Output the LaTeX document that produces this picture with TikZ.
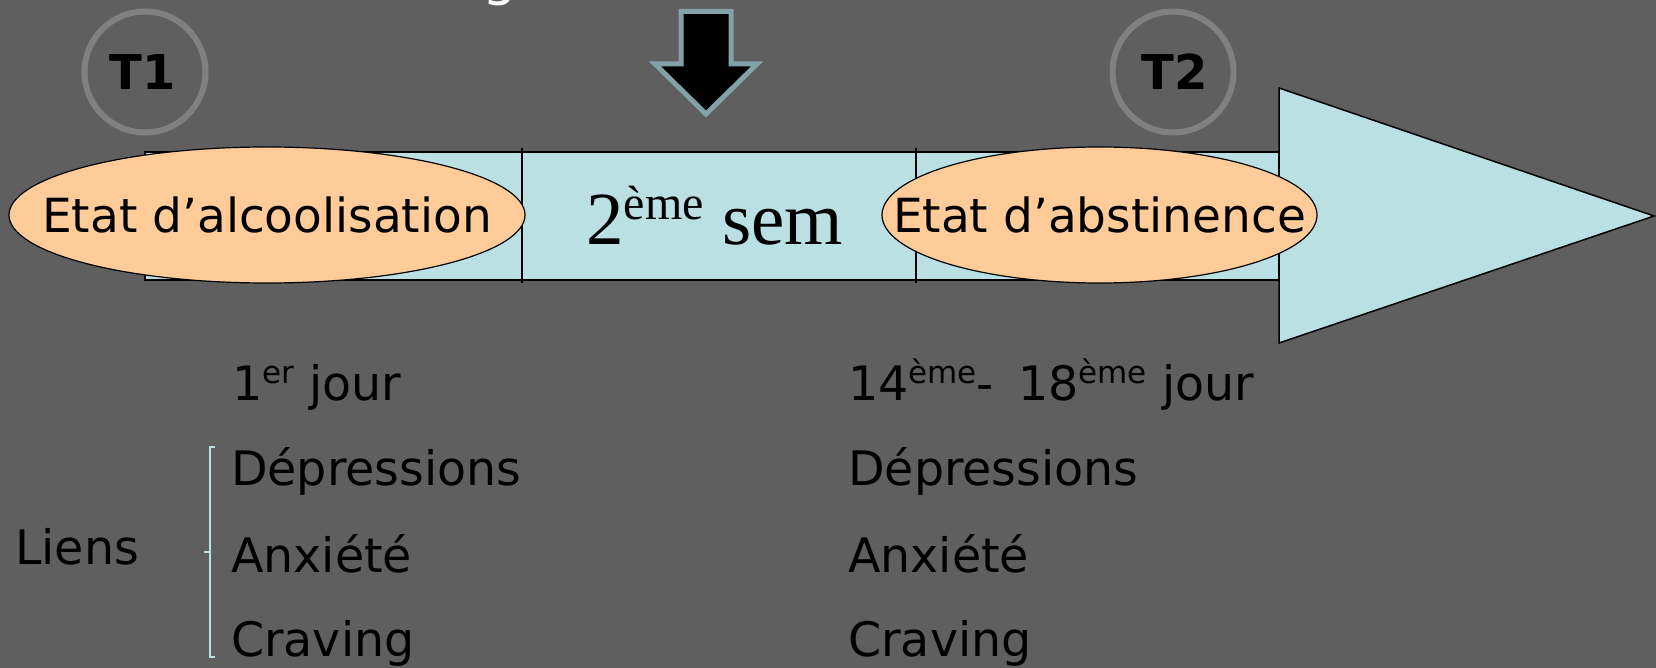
\documentclass[tikz,border=0pt]{standalone}
\usepackage{fontspec}
\setmainfont{DejaVu Sans}
\newfontfamily\tnr{Liberation Serif}
\usetikzlibrary{shapes.geometric}
\definecolor{bgc}{RGB}{95,95,95}
\definecolor{barc}{RGB}{187,224,227}
\definecolor{ellc}{RGB}{255,204,153}
\definecolor{circc}{RGB}{128,128,128}
\definecolor{arrc}{RGB}{130,162,167}
\tikzset{
  ell/.style={ellipse, draw=black, line width=1.2pt, fill=ellc, inner sep=0pt},
  elltxt/.style={inner sep=0pt, font=\fontsize{47}{50}\selectfont},
  tcirc/.style={circle, draw=circc, line width=6pt, minimum size=121pt, inner sep=0pt},
  ttxt/.style={inner sep=0pt, font=\fontsize{48}{50}\selectfont\bfseries},
  txt/.style={anchor=base west, inner sep=0pt, font=\fontsize{47.5}{50}\selectfont, text=black},
  divl/.style={draw=black, line width=1.2pt},
  brk/.style={draw=barc, line width=2pt}
}
\newcommand{\supx}[1]{\raisebox{17pt}{\fontsize{31}{31}\selectfont #1}}
\begin{document}
\begin{tikzpicture}[x=1pt,y=-1pt]
\useasboundingbox (0,0) rectangle (1656,668);
\fill[bgc] (0,0) rectangle (1656,668);
% title descender
\node[anchor=base west, inner sep=0pt, text=white, font=\fontsize{55}{60}\selectfont] (title) at (482,-5) {g};
% bar
\draw[fill=barc, line width=1.5pt] (145,152) rectangle (1279,280);
\coordinate (d1t) at (522,148); \coordinate (d1b) at (522,283);
\coordinate (d2t) at (916,148); \coordinate (d2b) at (916,283);
\draw[divl] (d1t) -- (d1b);
\draw[divl] (d2t) -- (d2b);
% arrow head
\draw[fill=barc, line width=1.5pt, line join=miter] (1279,88) -- (1654,216) -- (1279,343) -- cycle;
% ellipses
\node[ell, minimum width=516pt, minimum height=136pt] (e1) at (267,215) {};
\node[elltxt] (e1t) at (e1.center) {Etat d’alcoolisation};
\node[ell, minimum width=435pt, minimum height=136pt] (e2) at (1099.5,215) {};
\node[elltxt] (e2t) at (e2.center) {Etat d’abstinence};
% 2eme sem
\node[anchor=base west, inner sep=0pt, font=\tnr\fontsize{75}{80}\selectfont] (sem) at (586,245) {2\raisebox{25pt}{\fontsize{48}{48}\selectfont ème} sem};
% circles
\node[tcirc] (t1) at (145,72) {};
\node[ttxt] (t1l) at (143,72) {T1};
\node[tcirc] (t2) at (1173,72) {};
\node[ttxt] (t2l) at (1175,72) {T2};
% down arrow
\draw[fill=black, draw=arrc, line width=5pt, line join=miter] (681,11.5) -- (731,11.5) -- (731,64) -- (757,64) -- (706,114) -- (655,64) -- (681,64) -- cycle;
% left column
\node[txt] (j1) at (232,400) {1\supx{er} jour};
\node[txt] (l1) at (231,485) {Dépressions};
\node[txt] (l2) at (231,572) {Anxiété};
\node[txt] (l3) at (231,656) {Craving};
\node[txt] (liens) at (15,564) {Liens};
% right column
\node[txt] (j2) at (848,400) {14\supx{ème}-\hspace{24pt}18\supx{ème} jour};
\node[txt] (r1) at (848,485) {Dépressions};
\node[txt] (r2) at (848,572) {Anxiété};
\node[txt] (r3) at (848,656) {Craving};
% bracket
\coordinate (bt) at (215,447);
\coordinate (bb) at (215,657);
\coordinate (bm) at (204,552);
\draw[brk] (bt) -- (210,447) -- (210,657) -- (bb);
\draw[brk] (bm) -- (210,552);
\end{tikzpicture}
\end{document}
